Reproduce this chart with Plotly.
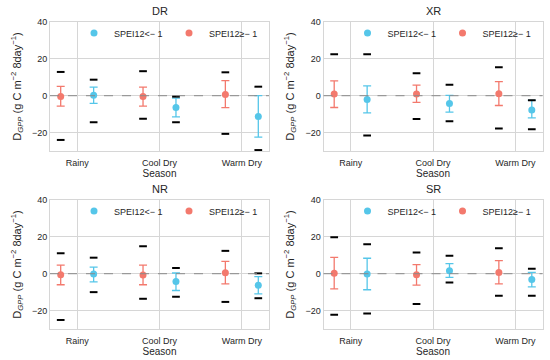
import plotly.graph_objects as go

# ---------------- data ----------------
seasons = ["Rainy", "Cool Dry", "Warm Dry"]
regions = ["DR", "XR", "NR", "SR"]

# SPEI12 < -1 (blue)
DR_dry_mean = [0.2, -6.4, -11.3]
DR_dry_hi = [4.7, -1.3, 0.0]
DR_dry_lo = [-4.2, -11.5, -22.5]
DR_dry_max = [8.7, -0.5, 4.9]
DR_dry_min = [-14.4, -14.4, -29.5]

XR_dry_mean = [-2.0, -4.2, -7.8]
XR_dry_hi = [5.3, 0.2, -2.5]
XR_dry_lo = [-9.3, -8.9, -12.0]
XR_dry_max = [22.5, 6.0, -2.5]
XR_dry_min = [-21.6, -13.8, -18.2]

NR_dry_mean = [-0.2, -4.2, -6.2]
NR_dry_hi = [3.6, 0.4, -1.6]
NR_dry_lo = [-4.4, -9.1, -10.9]
NR_dry_max = [8.7, 3.1, 0.2]
NR_dry_min = [-10.0, -12.5, -13.3]

SR_dry_mean = [-0.2, 1.6, -3.1]
SR_dry_hi = [8.4, 5.5, 0.7]
SR_dry_lo = [-8.7, -2.0, -7.1]
SR_dry_max = [16.0, 9.8, 2.7]
SR_dry_min = [-21.6, -4.7, -12.0]

# SPEI12 >= -1 (red)
DR_wet_mean = [-0.4, -0.4, 0.7]
DR_wet_hi = [5.1, 4.7, 8.2]
DR_wet_lo = [-5.6, -5.6, -6.5]
DR_wet_max = [12.9, 13.3, 12.7]
DR_wet_min = [-24.0, -12.5, -20.7]

XR_wet_mean = [0.9, 0.9, 1.1]
XR_wet_hi = [8.0, 5.8, 7.6]
XR_wet_lo = [-6.4, -3.6, -5.3]
XR_wet_max = [22.5, 12.2, 15.5]
XR_wet_min = [None, -12.7, -17.8]

NR_wet_mean = [-0.5, -0.7, 0.5]
NR_wet_hi = [4.7, 4.7, 6.7]
NR_wet_lo = [-6.0, -6.0, -5.5]
NR_wet_max = [11.1, 14.9, 12.4]
NR_wet_min = [-25.1, -13.6, -15.3]

SR_wet_mean = [0.2, -0.5, 0.7]
SR_wet_hi = [8.9, 4.9, 7.1]
SR_wet_lo = [-8.2, -6.2, -5.5]
SR_wet_max = [19.8, 11.5, 13.8]
SR_wet_min = [-22.2, -16.5, -12.0]

y_ticks = [-20, 0, 20, 40]

data = {
    "DR": [(DR_dry_mean, DR_dry_hi, DR_dry_lo, DR_dry_max, DR_dry_min),
           (DR_wet_mean, DR_wet_hi, DR_wet_lo, DR_wet_max, DR_wet_min)],
    "XR": [(XR_dry_mean, XR_dry_hi, XR_dry_lo, XR_dry_max, XR_dry_min),
           (XR_wet_mean, XR_wet_hi, XR_wet_lo, XR_wet_max, XR_wet_min)],
    "NR": [(NR_dry_mean, NR_dry_hi, NR_dry_lo, NR_dry_max, NR_dry_min),
           (NR_wet_mean, NR_wet_hi, NR_wet_lo, NR_wet_max, NR_wet_min)],
    "SR": [(SR_dry_mean, SR_dry_hi, SR_dry_lo, SR_dry_max, SR_dry_min),
           (SR_wet_mean, SR_wet_hi, SR_wet_lo, SR_wet_max, SR_wet_min)],
}

# ---------------- style ----------------
W, H = 550, 360
FONT = "Liberation Sans, Arial, sans-serif"
TXT = "#262626"
BLUE = "#55C6E9"
RED = "#F3796D"
GRID = "#d6d6d6"
names = ["SPEI12<− 1", "SPEI12≥− 1"]
colors = [BLUE, RED]
offsets = [0.2, -0.2]

# panel boxes in pixels: (left, right, top, bottom)
boxes = [(50, 269, 22, 151), (323.5, 542.5, 22, 151),
         (50, 269, 200, 329), (323.5, 542.5, 200, 329)]

fig = go.Figure()
layout = dict(
    template="none",
    width=W, height=H, margin=dict(l=0, r=0, t=0, b=0, autoexpand=False),
    paper_bgcolor="white", plot_bgcolor="white",
    font=dict(family=FONT, color=TXT, size=10),
    showlegend=True, annotations=[], shapes=[],
)

for i, reg in enumerate(regions):
    k = "" if i == 0 else str(i + 1)
    xa, ya = "x" + k, "y" + k
    l, r, t, b = boxes[i]
    xdom = [l / W, r / W]
    ydom = [1 - b / H, 1 - t / H]
    legname = "legend" + k
    for g in range(2):
        mean, hi, lo, mx, mn = data[reg][g]
        xs = [j + offsets[g] for j in range(len(seasons))]
        fig.add_trace(go.Scatter(
            x=xs, y=mean, mode="markers", name=names[g],
            marker=dict(color=colors[g], size=7, symbol="circle"),
            error_y=dict(type="data", symmetric=False,
                         array=[h - m for h, m in zip(hi, mean)],
                         arrayminus=[m - lw for m, lw in zip(mean, lo)],
                         color=colors[g], thickness=1.3, width=4),
            xaxis=xa, yaxis=ya, legend=legname, showlegend=True,
        ))
    for g in range(2):
        mean, hi, lo, mx, mn = data[reg][g]
        xs = [j + offsets[g] for j in range(len(seasons))]
        fig.add_trace(go.Scatter(
            x=xs + xs, y=mx + mn, mode="markers",
            marker=dict(symbol="line-ew", size=5.5, color="black",
                        line=dict(color="black", width=2)),
            xaxis=xa, yaxis=ya, showlegend=False, hoverinfo="skip",
        ))
    axcommon = dict(showline=True, mirror=True, linecolor=GRID, linewidth=1,
                    showgrid=True, gridcolor=GRID, gridwidth=1, zeroline=False,
                    automargin=False,
                    ticks="", tickfont=dict(size=9, color=TXT))
    layout["xaxis" + k] = dict(
        domain=xdom, anchor=ya, range=[-0.33, 2.33],
        tickvals=list(range(len(seasons))), ticktext=seasons,
        ticklabelstandoff=3,
        title=dict(text="Season", font=dict(size=10, color=TXT), standoff=3),
        **axcommon)
    layout["yaxis" + k] = dict(
        domain=ydom, anchor=xa, range=[-30, 40], tickvals=y_ticks,
        title=dict(text="D<sub><i>GPP</i></sub> (g C m<sup>−2</sup> 8day<sup>−1</sup>)",
                   font=dict(size=11, color=TXT), standoff=8),
        **axcommon)
    layout["shapes"].append(dict(
        type="line", xref=xa + " domain", yref=ya, x0=0, x1=1, y0=0, y1=0,
        line=dict(color="#8a8a8a", width=1, dash="dash"), layer="above"))
    layout["annotations"].append(dict(
        text=reg, xref="paper", yref="paper", x=(xdom[0] + xdom[1]) / 2,
        y=ydom[1], yshift=3, xanchor="center", yanchor="bottom",
        showarrow=False, font=dict(size=11, color=TXT)))
    layout[legname] = dict(
        orientation="h", x=(l + 24) / W, y=1 - (t + 11) / H,
        xanchor="left", yanchor="middle", bgcolor="rgba(0,0,0,0)",
        borderwidth=0, font=dict(size=9, color=TXT),
        entrywidth=50,
    )

fig.update_layout(**layout)
fig.write_html("out.html", config={"displayModeBar": False},
               post_script="document.body.style.margin='0';document.body.style.padding='0';")
